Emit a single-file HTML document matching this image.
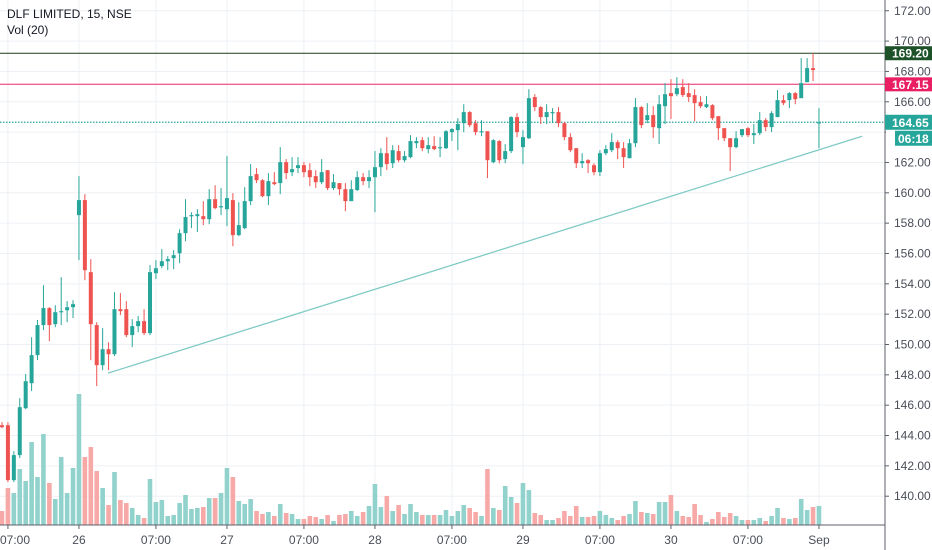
<!DOCTYPE html>
<html><head><meta charset="utf-8"><style>
body{margin:0;background:#fff;}
svg{display:block;font-family:"Liberation Sans",sans-serif;}
</style></head><body>
<svg id="chart" width="932" height="550" xmlns="http://www.w3.org/2000/svg">
<g id="grid"></g>
<g id="vol"></g>
<g id="lines"></g>
<g id="candles"></g>
<g id="axes"></g>
<text x="7" y="18" font-size="12" fill="#131722">DLF LIMITED, 15, NSE</text>
<text x="7" y="34" font-size="12" fill="#131722">Vol (20)</text>
</svg>
<script>
const opens=[144.68,144.68,141.06,142.71,145.80,147.45,149.30,151.28,152.40,151.34,152.13,152.26,152.46,158.53,159.52,154.77,151.28,148.64,149.69,149.36,152.33,152.33,150.62,151.21,151.54,150.75,154.70,155.17,155.49,155.69,156.02,157.34,158.46,158.46,158.46,158.26,159.58,159.05,158.92,159.52,157.21,157.67,159.45,161.23,160.83,159.78,160.70,160.64,162.02,161.36,161.63,161.82,161.49,161.10,160.70,161.49,160.31,160.64,160.24,159.45,160.18,161.03,160.77,161.03,161.69,162.61,161.95,162.75,162.15,162.35,163.27,163.47,162.88,163.08,162.94,162.94,164.00,164.13,164.59,165.32,164.59,164.06,164.06,162.02,163.41,162.22,162.75,164.99,163.01,163.60,166.31,165.65,164.99,165.25,165.32,164.59,163.67,162.94,161.95,162.15,161.82,161.36,162.61,162.81,163.34,162.94,162.28,163.27,165.65,164.79,165.12,164.26,165.71,166.57,166.50,166.97,166.57,166.44,165.98,165.65,165.78,165.05,164.26,163.60,163.01,163.80,164.26,163.80,163.93,164.79,164.33,164.99,166.11,166.11,166.57,166.24,167.29,168.22,164.59];
const highs=[144.88,144.88,142.97,146.46,148.05,150.48,151.61,153.91,152.46,152.59,154.44,152.86,152.92,161.10,159.91,155.63,151.47,151.08,150.15,153.45,153.39,152.86,151.67,151.87,152.33,155.23,155.56,156.29,155.82,156.22,157.60,159.58,158.72,158.92,159.45,160.24,160.50,160.31,162.42,159.98,159.38,160.37,161.89,161.63,160.90,161.30,161.36,163.01,162.22,162.35,162.35,162.02,161.95,161.49,162.22,161.49,161.23,160.64,160.64,160.83,161.43,161.30,161.49,162.75,162.94,163.67,163.14,163.14,162.75,163.80,163.67,163.67,163.67,163.73,163.67,164.13,164.26,164.92,165.84,165.38,164.79,164.79,164.06,163.54,163.47,163.21,165.05,165.25,164.13,166.83,166.50,165.71,165.84,165.58,165.65,164.66,163.93,162.94,162.61,162.22,161.95,162.81,163.14,163.93,163.47,163.34,163.54,166.24,165.71,165.91,165.71,166.44,167.23,167.49,167.62,167.49,167.23,166.83,166.37,166.37,165.84,165.05,164.26,163.60,164.06,164.20,164.33,164.53,165.32,164.92,165.38,166.77,166.44,166.64,166.64,168.88,168.88,169.21,165.58];
const lows=[144.49,140.93,140.93,142.51,145.74,146.93,148.97,150.95,150.22,151.14,151.28,151.47,151.74,155.56,154.24,148.97,147.26,148.31,148.31,149.23,151.94,150.48,149.83,150.81,150.62,150.62,154.31,155.03,154.90,154.97,155.36,156.81,157.67,157.41,157.87,157.93,158.92,158.53,157.80,156.48,157.14,157.60,159.19,160.64,159.71,159.19,160.50,159.91,160.90,161.10,161.30,161.03,160.44,160.31,160.57,160.18,160.18,159.85,158.79,159.45,160.11,160.50,160.31,158.72,161.10,161.49,161.63,162.02,162.02,162.28,162.94,162.75,162.61,162.81,162.35,162.88,163.41,162.81,164.00,164.33,163.80,163.73,160.97,161.95,161.95,161.95,162.61,163.67,161.89,163.54,165.38,164.53,164.53,164.59,164.33,163.47,162.68,161.63,161.63,161.30,161.16,161.10,162.48,162.68,162.22,161.63,162.28,163.01,164.26,164.59,163.60,163.21,164.53,164.86,166.37,166.31,165.98,164.72,165.58,165.58,164.79,163.47,163.41,161.43,162.94,163.67,163.67,163.21,163.80,164.06,164.00,164.99,165.78,165.58,165.84,166.24,167.29,167.36,162.94];
const closes=[144.55,141.06,142.71,145.87,147.58,149.30,151.28,152.40,151.28,152.13,152.20,152.46,152.66,159.52,154.90,151.34,148.64,149.69,149.36,152.33,152.20,150.62,151.21,151.54,150.75,154.77,155.03,155.49,155.63,155.89,157.34,158.40,158.53,158.59,158.26,159.58,158.99,159.12,159.65,157.21,157.87,159.45,161.10,160.83,159.78,160.77,160.57,162.02,161.30,161.56,161.82,161.36,161.03,160.70,161.36,160.31,160.70,160.24,159.45,160.24,161.03,160.77,161.03,161.69,162.61,161.89,162.81,162.15,162.42,163.41,163.41,162.94,163.14,162.88,163.01,164.06,164.20,164.53,165.32,164.46,164.00,164.06,162.15,163.47,162.15,162.75,164.99,164.00,163.67,166.24,165.65,164.99,165.32,165.32,164.59,163.67,162.81,161.95,162.09,161.95,161.36,162.61,162.88,163.34,162.94,162.35,163.27,165.65,164.46,165.12,164.33,165.84,166.50,166.37,166.90,166.44,166.31,165.91,165.71,165.84,164.92,164.26,163.60,163.01,163.60,164.20,163.80,163.93,164.79,164.33,165.25,166.11,165.91,166.57,166.17,167.23,168.22,168.09,164.65];
const volumes=[14,37,32,56,44,83,48,91,42,26,68,32,57,131,68,78,54,37,20,53,25,22,17,10,7,46,23,25,9,10,22,30,16,17,18,27,27,32,57,48,24,21,26,14,11,13,9,21,12,11,6,6,9,8,6,10,4,10,11,14,9,13,19,41,18,29,14,20,11,21,13,10,10,10,10,15,9,14,20,17,13,9,56,17,15,39,28,22,42,35,12,10,5,5,7,14,9,19,8,8,9,14,10,7,5,9,11,24,13,12,11,23,23,30,14,9,8,21,10,3,6,13,8,12,9,5,5,5,7,4,9,17,7,6,7,26,15,18,19];
const xTickIdx=[1,13,26,38,51,63,76,88,101,113,126,138];
const xTickLabels=["07:00","26","07:00","27","07:00","28","07:00","29","07:00","30","07:00","Sep"];
const yTicks=[140,142,144,146,148,150,152,154,156,158,160,162,164,166,168,170,172];
const trendIdx=[17.9,145.3];
const trendPrice=[148.11,163.73];
const levelPrices=[169.20,167.15];
const lastPrice=164.65;

const NS="http://www.w3.org/2000/svg";
const X0=2,STEP=5.92,PLOT_R=885,VOL_BASE=525;
const xs=i=>X0+i*STEP;
const ys=v=>2620-15.17*v;
const vs=v=>v*1.0;
function mk(tag,attrs,parent){const e=document.createElementNS(NS,tag);for(const k in attrs)e.setAttribute(k,attrs[k]);parent.appendChild(e);return e;}
const G=id=>document.getElementById(id);
const GREEN="#26a69a",RED="#ef5350";

yTicks.forEach(v=>{const l=mk('line',{x1:0,x2:PLOT_R,y1:ys(v),y2:ys(v),stroke:'#edf1f6','stroke-width':1},G('grid'));

});
xTickIdx.forEach(i=>{const l=mk('line',{x1:xs(i),x2:xs(i),y1:0,y2:VOL_BASE,stroke:'#edf1f6','stroke-width':1},G('grid'));

});

volumes.forEach((v,i)=>{const up=closes[i]>=opens[i];const h=vs(v);
const r=mk('rect',{x:xs(i)-2.3,y:VOL_BASE-h,width:4.6,height:h,fill:up?'#92d2cc':'#f7a9a7'},G('vol'));

});

const tl=mk('line',{x1:xs(trendIdx[0]),y1:ys(trendPrice[0]),x2:xs(trendIdx[1]),y2:ys(trendPrice[1]),stroke:'#80cbc4','stroke-width':1.3},G('lines'));


const l1=mk('line',{x1:0,x2:PLOT_R,y1:ys(levelPrices[0]),y2:ys(levelPrices[0]),stroke:'#1b3d1f','stroke-width':1},G('lines'));


const l2=mk('line',{x1:0,x2:PLOT_R,y1:ys(levelPrices[1]),y2:ys(levelPrices[1]),stroke:'#f06292','stroke-width':1.4},G('lines'));


const l3=mk('line',{x1:0,x2:PLOT_R,y1:ys(lastPrice),y2:ys(lastPrice),stroke:GREEN,'stroke-width':1.2,'stroke-dasharray':'1.5 1.5'},G('lines'));



opens.forEach((o,i)=>{const c=closes[i],up=c>=o,col=up?GREEN:RED,x=xs(i);
const g=mk('g',{},G('candles'));


mk('line',{x1:x,x2:x,y1:ys(highs[i]),y2:ys(lows[i]),stroke:col,'stroke-width':1},g);
const t=Math.min(ys(o),ys(c)),h=Math.max(1.2,Math.abs(ys(o)-ys(c)));
mk('rect',{x:x-2,y:t,width:4,height:h,fill:col},g);});

const ax=G('axes');
mk('line',{x1:PLOT_R,x2:PLOT_R,y1:0,y2:550,stroke:'#5d606b','stroke-width':1},ax);
mk('line',{x1:0,x2:PLOT_R,y1:VOL_BASE,y2:VOL_BASE,stroke:'#5d606b','stroke-width':1},ax);
yTicks.forEach(v=>{mk('line',{x1:PLOT_R,x2:PLOT_R+4,y1:ys(v),y2:ys(v),stroke:'#5d606b'},ax);
const t=mk('text',{x:894,y:ys(v)+4,'font-size':12,fill:'#4a4e59'},ax);t.textContent=v.toFixed(2);

});
xTickIdx.forEach((i,k)=>{mk('line',{x1:xs(i),x2:xs(i),y1:VOL_BASE,y2:VOL_BASE+4,stroke:'#5d606b'},ax);
const first=xs(i)<20;
const t=mk('text',{x:first?0:xs(i),y:544,'font-size':12,fill:'#4a4e59','text-anchor':first?'start':'middle'},ax);t.textContent=xTickLabels[k];

});
function badge(y,fill,txt,name,x,h,tx){const r=mk('rect',{x:x,y:y-h/2,width:932-x,height:h,fill:fill},ax);


const t=mk('text',{x:tx,y:y+4.5,'font-size':12,'font-weight':'bold',fill:'#fff'},ax);t.textContent=txt;}
mk('rect',{x:PLOT_R+1,y:ys(lastPrice)-8,width:46,height:32,fill:'#fff'},ax);
badge(ys(levelPrices[0]),'#1d5127',levelPrices[0].toFixed(2),'level-badge-169',PLOT_R,14,892);
badge(ys(levelPrices[1]),'#e91e63',levelPrices[1].toFixed(2),'level-badge-167',PLOT_R,14,892);
badge(ys(lastPrice),GREEN,lastPrice.toFixed(2),'last-price-badge',PLOT_R,15,892);
badge(ys(lastPrice)+16,GREEN,'06:18','countdown-badge',895,15,898);
</script>
</body></html>
